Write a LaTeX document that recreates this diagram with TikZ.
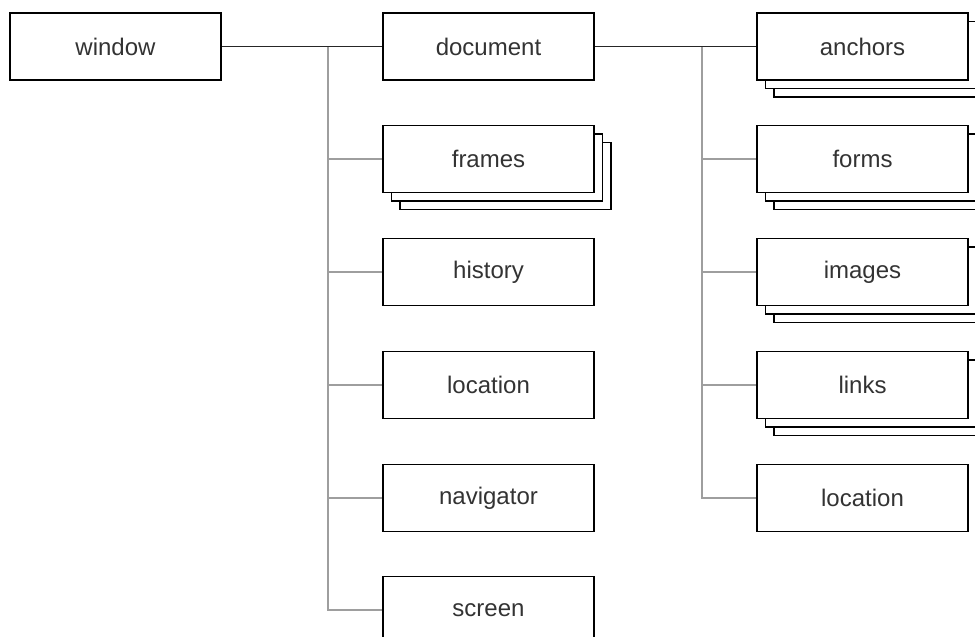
\documentclass[tikz,border=0pt]{standalone}
\usepackage{fontspec}
\setmainfont{Liberation Sans}
\begin{document}
\begin{tikzpicture}[x=1pt,y=-1pt,
  box/.style={draw=black,fill=white,line width=1.3pt,minimum width=211pt,minimum height=67pt,inner sep=0pt,
    font=\fontsize{24}{28}\selectfont,text=black!80},
  backbox/.style={draw=black,fill=white,line width=1.3pt,minimum width=211pt,minimum height=67pt,inner sep=0pt},
  blk/.style={draw=black!85,line width=1.3pt},
  gry/.style={draw=black!38,line width=2.2pt}]
\useasboundingbox (0,0) rectangle (975,637);
\clip (0,0) rectangle (975,637);
% left column
\node[box] (window) at (115.5,46.5) {window};
\coordinate (lb) at (328,46.5);
\coordinate (rb) at (702,46.5);
% stacks
\foreach \n/\x/\y in {frames/488.5/159, anchors/862.5/46.5, forms/862.5/159, images/862.5/272, links/862.5/385}{
  \node[backbox] (\n C) at (\x+17,\y+17) {};
  \node[backbox] (\n B) at (\x+8.5,\y+8.5) {};
}
\node[box] (document) at (488.5,46.5) {document};
\node[box] (frames) at (488.5,159) {frames};
\node[box] (history) at (488.5,272) {history};
\node[box] (location) at (488.5,385) {location};
\node[box] (navigator) at (488.5,498) {navigator};
\node[box] (screen) at (488.5,610) {screen};
\node[box] (anchors) at (862.5,46.5) {anchors};
\node[box] (forms) at (862.5,159) {forms};
\node[box] (images) at (862.5,272) {images};
\node[box] (links) at (862.5,385) {links};
\node[box] (location2) at (862.5,498) {location};
% gray branches
\draw[gry] (lb) |- (screen.west);
\foreach \t in {frames,history,location,navigator}{\draw[gry] (lb |- \t.west) -- (\t.west);}
\draw[gry] (rb) |- (location2.west);
\foreach \t in {forms,images,links}{\draw[gry] (rb |- \t.west) -- (\t.west);}
% black connectors
\draw[blk] (window.east) -- (document.west);
\draw[blk] (document.east) -- (anchors.west);
\end{tikzpicture}
\end{document}
